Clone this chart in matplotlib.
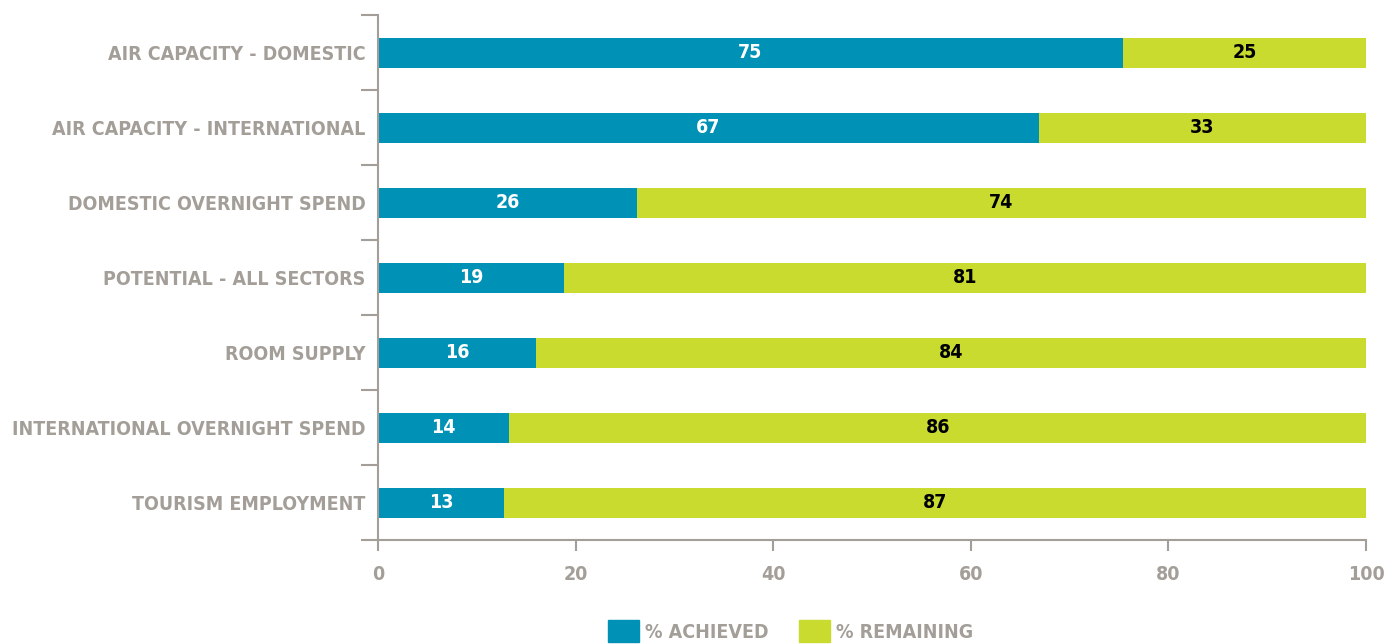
import matplotlib
matplotlib.use("Agg")
import matplotlib.pyplot as plt
from matplotlib.patches import Patch
import numpy as np

categories = ["AIR CAPACITY - DOMESTIC", "AIR CAPACITY - INTERNATIONAL",
              "DOMESTIC OVERNIGHT SPEND", "POTENTIAL - ALL SECTORS",
              "ROOM SUPPLY", "INTERNATIONAL OVERNIGHT SPEND", "TOURISM EMPLOYMENT"]
achieved = [75.4, 66.9, 26.2, 18.8, 16.0, 13.3, 12.8]
achieved_labels = ["75", "67", "26", "19", "16", "14", "13"]
remaining_labels = ["25", "33", "74", "81", "84", "86", "87"]
remaining = [100 - a for a in achieved]

BLUE = "#0091b6"
GREEN = "#c9db2f"
GREY = "#a39e98"

plt.rcParams["font.family"] = ["DejaVu Sans"]
plt.rcParams["font.stretch"] = "condensed"
plt.rcParams["font.weight"] = "bold"

fig = plt.figure(figsize=(13.99, 6.44), dpi=100)
ax = fig.add_axes([378 / 1399, 1 - 540 / 644, 988 / 1399, 525 / 644])

y = np.arange(len(categories))
ax.barh(y, achieved, height=0.4, color=BLUE)
ax.barh(y, remaining, left=achieved, height=0.4, color=GREEN)

for i in range(len(categories)):
    ax.text(achieved[i] / 2, y[i], achieved_labels[i], ha="center", va="center",
            color="white", fontsize=14, fontweight="bold")
    ax.text(achieved[i] + remaining[i] / 2, y[i], remaining_labels[i], ha="center",
            va="center", color="black", fontsize=14, fontweight="bold")

ax.set_xlim(0, 100)
ax.set_ylim(len(categories) - 0.5, -0.5)
ax.set_xticks([0, 20, 40, 60, 80, 100])
ax.set_yticks(y)
ax.set_yticklabels(categories)
ax.set_yticks(np.arange(-0.5, len(categories)), minor=True)
ax.tick_params(axis="y", which="major", length=0, pad=9, labelsize=14, labelcolor=GREY)
ax.tick_params(axis="y", which="minor", length=12, width=1.5, color=GREY)
ax.tick_params(axis="x", length=8, width=1.5, color=GREY, labelsize=14,
               labelcolor=GREY, pad=10)
for s in ["top", "right"]:
    ax.spines[s].set_visible(False)
for s in ["left", "bottom"]:
    ax.spines[s].set_color(GREY)
    ax.spines[s].set_linewidth(1.5)

handles = [Patch(color=BLUE, label="% ACHIEVED"), Patch(color=GREEN, label="% REMAINING")]
leg = fig.legend(handles=handles, loc="center", bbox_to_anchor=(0.565, 0.02), ncol=2,
                 frameon=False, fontsize=14, handlelength=1.6, handleheight=1.4,
                 handletextpad=0.3, columnspacing=1.6)
for t in leg.get_texts():
    t.set_color(GREY)

fig.savefig("out.png", dpi=100)
